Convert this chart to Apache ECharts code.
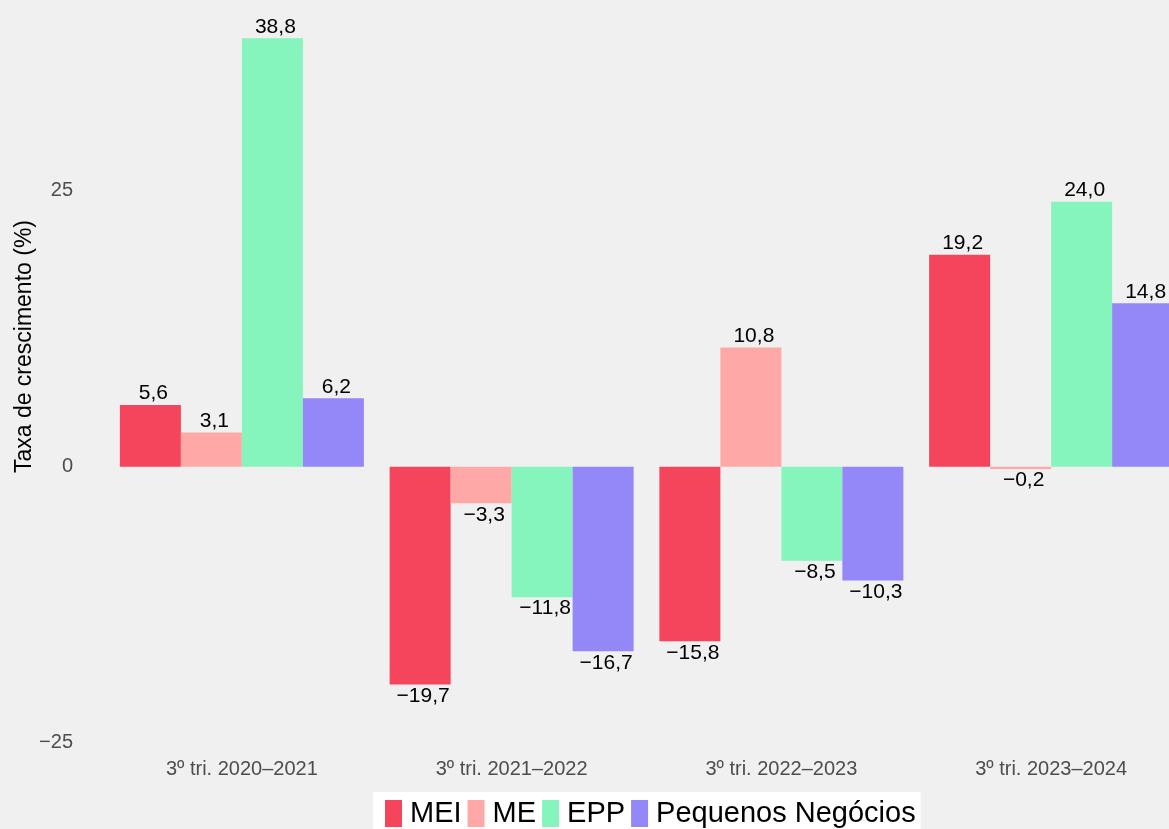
<!DOCTYPE html>
<html>
<head>
<meta charset="utf-8">
<style>
  html, body { margin: 0; padding: 0; background: #f0f0f0; }
  #chart { width: 1169px; height: 829px; }
</style>
<script src="https://cdn.jsdelivr.net/npm/echarts@6/dist/echarts.min.js"></script>
</head>
<body>
<div id="chart"></div>
<script>
// 类别
const periodos = ['3º tri. 2020–2021', '3º tri. 2021–2022', '3º tri. 2022–2023', '3º tri. 2023–2024'];

// 系列数据
const seriesNames = ['MEI', 'ME', 'EPP', 'Pequenos Negócios'];
const mei = [5.6, -19.7, -15.8, 19.2];
const me = [3.1, -3.3, 10.8, -0.2];
const epp = [38.8, -11.8, -8.5, 24.0];
const pequenos = [6.2, -16.7, -10.3, 14.8];
const colors = ['#f5455c', '#ffa8a8', '#85f5bd', '#9487f8'];

// y轴刻度
const yTicks = [-25, 0, 25];

const fmt = v => v.toFixed(1).replace('.', ',').replace('-', '\u2212');

const chart = echarts.init(document.getElementById('chart'));

const buildSeries = (name, values, color) => ({
    name: name,
    type: 'bar',
    barWidth: 61,
    barGap: '0%',
    itemStyle: { color: color },
    data: values.map(v => ({
        value: v,
        label: { position: v >= 0 ? 'top' : 'bottom' }
    })),
    label: {
        show: true,
        distance: 1,
        offset: [3, 0],
        color: '#000',
        fontSize: 21,
        fontFamily: 'Liberation Sans',
        formatter: p => fmt(p.value)
    }
});

const option = {
    backgroundColor: '#f0f0f0',
    animation: false,
    grid: { left: 107, width: 1079, top: 14, height: 740, outerBoundsMode: 'none' },
    xAxis: {
        type: 'category',
        data: periodos,
        axisLine: { show: false },
        axisTick: { show: false },
        axisLabel: {
            color: '#4d4d4d',
            fontSize: 20,
            fontFamily: 'Liberation Sans',
            margin: 5
        }
    },
    yAxis: {
        type: 'value',
        min: -26,
        max: 41,
        axisLine: { show: false },
        axisTick: { show: false },
        splitLine: { show: false },
        axisLabel: {
            customValues: yTicks,
            color: '#4d4d4d',
            fontSize: 20,
            fontFamily: 'Liberation Sans',
            margin: 34,
            formatter: v => String(v).replace('-', '\u2212')
        }
    },
    legend: {
        left: 373,
        top: 792,
        backgroundColor: '#ffffff',
        padding: [7, 5, 10, 12],
        itemWidth: 17,
        itemHeight: 27,
        itemGap: 6,
        textStyle: {
            color: '#000',
            fontSize: 29,
            fontFamily: 'Liberation Sans',
            padding: [0, 0, 0, 3]
        },
        data: seriesNames.map(n => ({ name: n, icon: 'rect' }))
    },
    graphic: [{
        type: 'text',
        left: 13,
        top: 220,
        rotation: Math.PI / 2,
        style: {
            text: 'Taxa de crescimento (%)',
            fill: '#000',
            fontSize: 23,
            fontFamily: 'Liberation Sans'
        }
    }],
    series: [
        buildSeries(seriesNames[0], mei, colors[0]),
        buildSeries(seriesNames[1], me, colors[1]),
        buildSeries(seriesNames[2], epp, colors[2]),
        buildSeries(seriesNames[3], pequenos, colors[3])
    ]
};

chart.setOption(option);
</script>
</body>
</html>
